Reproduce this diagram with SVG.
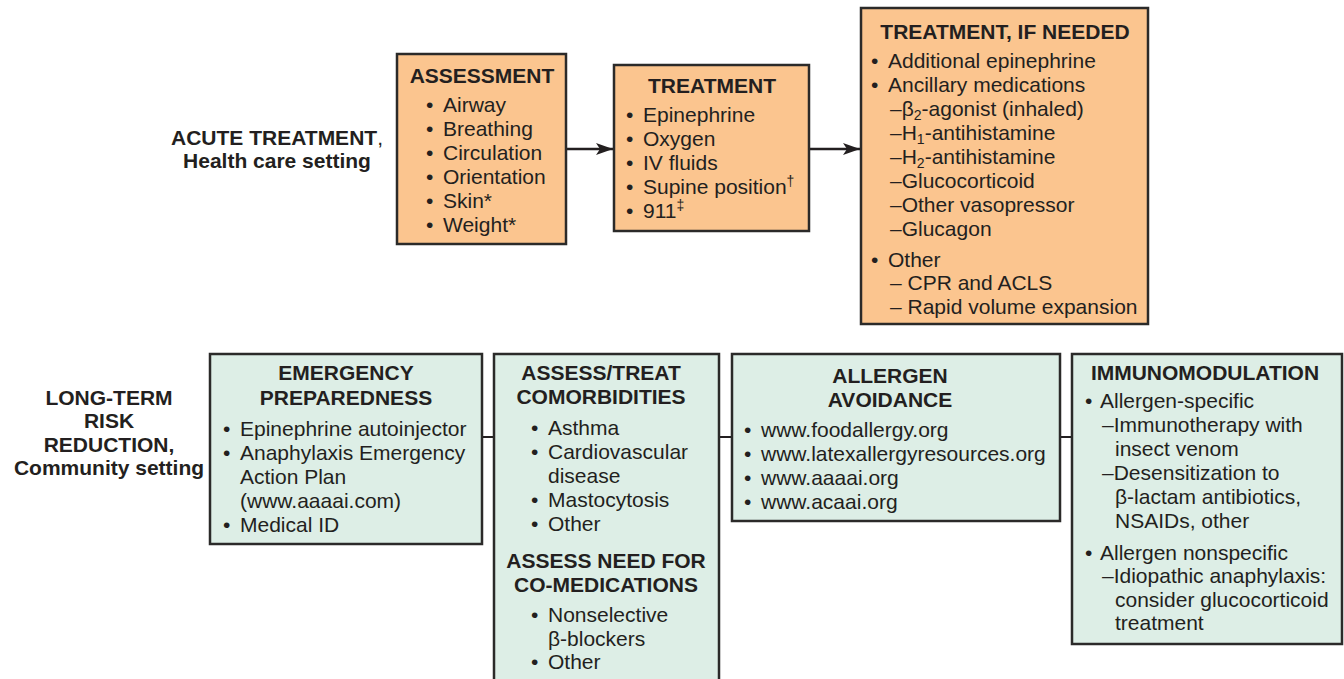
<svg xmlns="http://www.w3.org/2000/svg" width="1344" height="679" viewBox="0 0 1344 679">
<style>
.bg{fill:#ffffff}
.pa{fill:#fbc58f;stroke:#2b2a29;stroke-width:2.5}
.gr{fill:#ddeee6;stroke:#2b2a29;stroke-width:2.5}
.t{font-family:"Liberation Sans",Arial,Helvetica,sans-serif;font-size:21px;fill:#231f20}
.b{font-weight:bold}
.c{text-anchor:middle}
.sm{font-size:14px}
.ln{stroke:#231f20;stroke-width:2.5;fill:none}
.ln2{stroke:#231f20;stroke-width:2;fill:none}
</style>
<defs>
<marker id="ah" markerUnits="userSpaceOnUse" markerWidth="18" markerHeight="14" refX="17" refY="7" orient="auto">
<path d="M0,1 L17,7 L0,13 L4,7 z" fill="#231f20"/>
</marker>
</defs>
<rect class="bg" x="0" y="0" width="1344" height="679"/>

<g id="label-acute">
<text class="t c" x="277" y="145"><tspan class="b">ACUTE TREATMENT</tspan>,</text>
<text class="t b c" x="277" y="168">Health care setting</text>
</g>

<g id="label-longterm">
<text class="t b c" x="109" y="405">LONG-TERM</text>
<text class="t b c" x="109" y="428">RISK</text>
<text class="t b c" x="109" y="452">REDUCTION,</text>
<text class="t b c" x="109" y="475">Community setting</text>
</g>

<g id="connectors">
<line class="ln" x1="566" y1="149" x2="613" y2="149" marker-end="url(#ah)"/>
<line class="ln" x1="809" y1="149" x2="860" y2="149" marker-end="url(#ah)"/>
<line class="ln2" x1="482" y1="437" x2="494" y2="437"/>
<line class="ln2" x1="719" y1="437" x2="732" y2="437"/>
<line class="ln2" x1="1060" y1="437" x2="1072" y2="437"/>
</g>

<g id="node-assessment">
<rect class="pa" x="397" y="54" width="169" height="190"/>
<text class="t b c" x="482" y="83">ASSESSMENT</text>
<text class="t"><tspan x="426" y="112">•</tspan><tspan x="443" y="112">Airway</tspan></text>
<text class="t"><tspan x="426" y="136">•</tspan><tspan x="443" y="136">Breathing</tspan></text>
<text class="t"><tspan x="426" y="160">•</tspan><tspan x="443" y="160">Circulation</tspan></text>
<text class="t"><tspan x="426" y="184">•</tspan><tspan x="443" y="184">Orientation</tspan></text>
<text class="t"><tspan x="426" y="208">•</tspan><tspan x="443" y="208">Skin*</tspan></text>
<text class="t"><tspan x="426" y="232">•</tspan><tspan x="443" y="232">Weight*</tspan></text>
</g>

<g id="node-treatment">
<rect class="pa" x="614" y="65" width="195" height="166"/>
<text class="t b c" x="712" y="93">TREATMENT</text>
<text class="t"><tspan x="626" y="122">•</tspan><tspan x="643" y="122">Epinephrine</tspan></text>
<text class="t"><tspan x="626" y="146">•</tspan><tspan x="643" y="146">Oxygen</tspan></text>
<text class="t"><tspan x="626" y="170">•</tspan><tspan x="643" y="170">IV fluids</tspan></text>
<text class="t"><tspan x="626" y="194">•</tspan><tspan x="643" y="194">Supine position</tspan><tspan class="sm" dy="-8">†</tspan></text>
<text class="t"><tspan x="626" y="218">•</tspan><tspan x="643" y="218">911</tspan><tspan class="sm" dy="-8">‡</tspan></text>
</g>

<g id="node-treatment-if-needed">
<rect class="pa" x="861" y="8" width="287" height="316"/>
<text class="t b c" x="1005" y="39">TREATMENT, IF NEEDED</text>
<text class="t"><tspan x="871" y="68">•</tspan><tspan x="888" y="68">Additional epinephrine</tspan></text>
<text class="t"><tspan x="871" y="92">•</tspan><tspan x="888" y="92">Ancillary medications</tspan></text>
<text class="t" x="890" y="116">–β<tspan class="sm" dy="4">2</tspan><tspan dy="-4">-agonist (inhaled)</tspan></text>
<text class="t" x="890" y="140">–H<tspan class="sm" dy="4">1</tspan><tspan dy="-4">-antihistamine</tspan></text>
<text class="t" x="890" y="164">–H<tspan class="sm" dy="4">2</tspan><tspan dy="-4">-antihistamine</tspan></text>
<text class="t" x="890" y="188">–Glucocorticoid</text>
<text class="t" x="890" y="212">–Other vasopressor</text>
<text class="t" x="890" y="236">–Glucagon</text>
<text class="t"><tspan x="871" y="267">•</tspan><tspan x="888" y="267">Other</tspan></text>
<text class="t" x="890" y="290">– CPR and ACLS</text>
<text class="t" x="890" y="314">– Rapid volume expansion</text>
</g>

<g id="node-emergency-preparedness">
<rect class="gr" x="210" y="354" width="272" height="190"/>
<text class="t b c" x="346" y="380">EMERGENCY</text>
<text class="t b c" x="346" y="405">PREPAREDNESS</text>
<text class="t"><tspan x="223" y="436">•</tspan><tspan x="240" y="436">Epinephrine autoinjector</tspan></text>
<text class="t"><tspan x="223" y="460">•</tspan><tspan x="240" y="460">Anaphylaxis Emergency</tspan></text>
<text class="t" x="240" y="484">Action Plan</text>
<text class="t" x="240" y="508">(www.aaaai.com)</text>
<text class="t"><tspan x="223" y="532">•</tspan><tspan x="240" y="532">Medical ID</tspan></text>
</g>

<g id="node-comorbidities">
<rect class="gr" x="494" y="354" width="225" height="345"/>
<text class="t b c" x="601" y="380">ASSESS/TREAT</text>
<text class="t b c" x="601" y="404">COMORBIDITIES</text>
<text class="t"><tspan x="531" y="435">•</tspan><tspan x="548" y="435">Asthma</tspan></text>
<text class="t"><tspan x="531" y="459">•</tspan><tspan x="548" y="459">Cardiovascular</tspan></text>
<text class="t" x="548" y="483">disease</text>
<text class="t"><tspan x="531" y="507">•</tspan><tspan x="548" y="507">Mastocytosis</tspan></text>
<text class="t"><tspan x="531" y="531">•</tspan><tspan x="548" y="531">Other</tspan></text>
<text class="t b c" x="606" y="568">ASSESS NEED FOR</text>
<text class="t b c" x="606" y="592">CO-MEDICATIONS</text>
<text class="t"><tspan x="531" y="622">•</tspan><tspan x="548" y="622">Nonselective</tspan></text>
<text class="t" x="548" y="646">β-blockers</text>
<text class="t"><tspan x="531" y="669">•</tspan><tspan x="548" y="669">Other</tspan></text>
</g>

<g id="node-allergen-avoidance">
<rect class="gr" x="732" y="354" width="328" height="167"/>
<text class="t b c" x="890" y="383">ALLERGEN</text>
<text class="t b c" x="890" y="407">AVOIDANCE</text>
<text class="t"><tspan x="744" y="437">•</tspan><tspan x="761" y="437">www.foodallergy.org</tspan></text>
<text class="t"><tspan x="744" y="461">•</tspan><tspan x="761" y="461">www.latexallergyresources.org</tspan></text>
<text class="t"><tspan x="744" y="485">•</tspan><tspan x="761" y="485">www.aaaai.org</tspan></text>
<text class="t"><tspan x="744" y="509">•</tspan><tspan x="761" y="509">www.acaai.org</tspan></text>
</g>

<g id="node-immunomodulation">
<rect class="gr" x="1072" y="354" width="270" height="290"/>
<text class="t b c" x="1205" y="380">IMMUNOMODULATION</text>
<text class="t"><tspan x="1085" y="408">•</tspan><tspan x="1100" y="408">Allergen-specific</tspan></text>
<text class="t" x="1102" y="432">–Immunotherapy with</text>
<text class="t" x="1115" y="456">insect venom</text>
<text class="t" x="1102" y="480">–Desensitization to</text>
<text class="t" x="1115" y="504">β-lactam antibiotics,</text>
<text class="t" x="1115" y="528">NSAIDs, other</text>
<text class="t"><tspan x="1085" y="560">•</tspan><tspan x="1100" y="560">Allergen nonspecific</tspan></text>
<text class="t" x="1102" y="583">–Idiopathic anaphylaxis:</text>
<text class="t" x="1115" y="607">consider glucocorticoid</text>
<text class="t" x="1115" y="630">treatment</text>
</g>
</svg>
